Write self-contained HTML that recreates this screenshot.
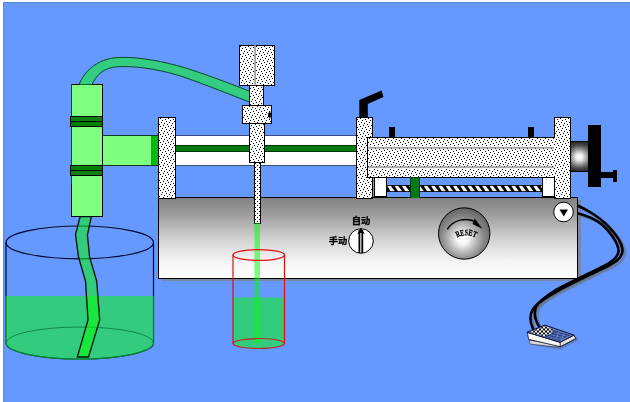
<!DOCTYPE html>
<html><head><meta charset="utf-8">
<style>
html,body{margin:0;padding:0;background:#fff;}
body{width:630px;height:402px;overflow:hidden;}
svg{display:block;will-change:transform;}
text{font-family:"Liberation Sans","Noto Sans CJK SC",sans-serif;}
</style></head><body>
<svg width="630" height="402" viewBox="0 0 630 402">
<defs>
<pattern id="dots" width="8" height="8" patternUnits="userSpaceOnUse" shape-rendering="crispEdges">
<rect width="8" height="8" fill="#fff"/>
<rect x="2" y="0" width="1" height="1" fill="#000"/>
<rect x="6" y="1" width="1" height="1" fill="#000"/>
<rect x="1" y="2" width="1" height="1" fill="#000"/>
<rect x="4" y="3" width="1" height="1" fill="#000"/>
<rect x="7" y="4" width="1" height="1" fill="#000"/>
<rect x="3" y="5" width="1" height="1" fill="#000"/>
<rect x="0" y="6" width="1" height="1" fill="#000"/>
<rect x="5" y="7" width="1" height="1" fill="#000"/>
</pattern>
<pattern id="stripes" width="6.4" height="6" patternUnits="userSpaceOnUse" x="386.8" y="186">
<rect width="6.4" height="6" fill="#fff"/>
<polygon points="0,0 3.2,0 6.4,6 3.2,6" fill="#000"/>
<polygon points="-3.2,0 -6.4,0 0,6 3.2,6" fill="#000"/>
<polygon points="6.4,0 9.6,6 6.4,6" fill="#000"/>
</pattern>
<linearGradient id="bodyg" x1="0" y1="0" x2="0" y2="1">
<stop offset="0" stop-color="#828282"/>
<stop offset="0.2" stop-color="#9c9c9c"/>
<stop offset="0.5" stop-color="#d0d0d0"/>
<stop offset="0.78" stop-color="#f3f3f3"/>
<stop offset="1" stop-color="#ffffff"/>
</linearGradient>
<radialGradient id="knobg" cx="0.47" cy="0.6" r="0.6">
<stop offset="0" stop-color="#ffffff"/>
<stop offset="0.18" stop-color="#f6f6f6"/>
<stop offset="0.45" stop-color="#b8b8b8"/>
<stop offset="0.7" stop-color="#868686"/>
<stop offset="1" stop-color="#626262"/>
</radialGradient>
<linearGradient id="shaftv" x1="0" y1="0" x2="0" y2="1">
<stop offset="0" stop-color="#2a2a2a"/>
<stop offset="0.12" stop-color="#505050"/>
<stop offset="0.42" stop-color="#f0f0f0"/>
<stop offset="0.52" stop-color="#fff"/>
<stop offset="0.62" stop-color="#f0f0f0"/>
<stop offset="0.9" stop-color="#505050"/>
<stop offset="1" stop-color="#2a2a2a"/>
</linearGradient>
<linearGradient id="shafth" x1="0" y1="0" x2="1" y2="0">
<stop offset="0" stop-color="#222" stop-opacity="0.5"/>
<stop offset="0.3" stop-color="#222" stop-opacity="0.05"/>
<stop offset="0.45" stop-color="#222" stop-opacity="0"/>
<stop offset="0.6" stop-color="#222" stop-opacity="0.05"/>
<stop offset="1" stop-color="#222" stop-opacity="0.55"/>
</linearGradient>
<linearGradient id="grayline" x1="0" y1="0" x2="0" y2="1">
<stop offset="0" stop-color="#fff" stop-opacity="0"/>
<stop offset="0.35" stop-color="#fff" stop-opacity="0.9"/>
<stop offset="0.8" stop-color="#808080" stop-opacity="1"/>
<stop offset="1" stop-color="#707070" stop-opacity="1"/>
</linearGradient>
<linearGradient id="grayline2" x1="0" y1="1" x2="0" y2="0">
<stop offset="0" stop-color="#fff" stop-opacity="0"/>
<stop offset="0.35" stop-color="#fff" stop-opacity="0.9"/>
<stop offset="0.8" stop-color="#808080" stop-opacity="1"/>
<stop offset="1" stop-color="#707070" stop-opacity="1"/>
</linearGradient>
<pattern id="ndots" x="254" y="164" width="8" height="4" patternUnits="userSpaceOnUse" shape-rendering="crispEdges">
<rect width="8" height="4" fill="#fff"/>
<rect x="3" y="1" width="1" height="1" fill="#000"/>
<rect x="1" y="3" width="1" height="1" fill="#000"/>
<rect x="5" y="3" width="1" height="1" fill="#000"/>
</pattern>
<pattern id="checker" width="4" height="4" patternUnits="userSpaceOnUse" patternTransform="translate(529,326.500)">
<rect width="4" height="4" fill="#fff"/>
<rect width="2" height="2" fill="#000"/>
<rect x="2" y="2" width="2" height="2" fill="#000"/>
</pattern>
</defs>

<!-- background -->
<rect x="0" y="0" width="630" height="402" fill="#fff"/>
<rect x="3" y="2" width="627" height="400" fill="#6699ff" shape-rendering="crispEdges"/>
<rect x="3" y="2" width="627" height="1" fill="#5f88dc" shape-rendering="crispEdges"/>
<rect x="3" y="2" width="1" height="400" fill="#5f88dc" shape-rendering="crispEdges"/>

<!-- ============ tank (left) ============ -->
<g id="tank">
<ellipse cx="79.750" cy="242.400" rx="73.750" ry="16.400" fill="none" stroke="#000828" stroke-width="1.200"/>
<path d="M6,242.400 V343 A73.750,16 0 0 0 153.500,343 V242.400" fill="none" stroke="#000828" stroke-width="1.200"/>
<path d="M5.300,296 H154.200 V343 A74.450,16.700 0 0 1 5.300,343 Z" fill="#00ff00" fill-opacity="0.500"/>
<ellipse cx="79.750" cy="343" rx="73.750" ry="16" fill="none" stroke="#0a8040" stroke-width="0.900"/>
</g>

<!-- hose into tank -->
<path id="hose2" d="M80.200,216.500 L75.500,234.500 L78.5,257 L85.5,281 L88,320 L77.3,357 L88.5,357 L99.7,320 L96.7,281 L89.6,257 L87.400,235 L91.400,216.500 Z" fill="#00ff00" fill-opacity="0.5" stroke="#001505" stroke-width="1.350" stroke-linejoin="miter"/>

<!-- ============ top hose arc ============ -->
<path id="hose1" d="M79.200,84.500 C84,71.500 97,58.800 118,57.500 C140,56.500 165,62 184,67.5 C205,74 230,83.500 249.500,91.200 L249.500,102 C230,94.500 208,85.700 184,77.100 C165,71 140,65.500 118,66.700 C103,67.500 96,76 92,84.500 Z" fill="#33cc80" stroke="#064a2a" stroke-width="1"/>

<!-- ============ vertical green cylinder ============ -->
<g shape-rendering="crispEdges">
<rect x="71" y="84" width="32" height="133" fill="#000"/>
<rect x="72" y="85" width="30" height="131" fill="#80ff80"/>
<rect x="71" y="84" width="1" height="100" fill="#064a2a"/>
<rect x="80" y="84" width="12" height="1" fill="#006a22"/>
<!-- horizontal light-green tube -->
<rect x="103" y="135" width="56" height="31" fill="#0a3a2a"/>
<rect x="103" y="136" width="48" height="29" fill="#80ff80"/>
<rect x="151" y="136" width="7" height="29" fill="#00bb11"/>
<!-- bands -->
<rect x="70" y="116" width="33" height="11" fill="#000"/>
<rect x="71" y="117" width="31" height="4" fill="#108010"/>
<rect x="71" y="122" width="31" height="4" fill="#008000"/>
<rect x="70" y="165" width="33" height="11" fill="#000"/>
<rect x="71" y="166" width="31" height="4" fill="#008000"/>
<rect x="71" y="171" width="31" height="4" fill="#108010"/>
</g>

<!-- ============ white tube with green stripe ============ -->
<g shape-rendering="crispEdges">
<rect x="175" y="135" width="183" height="30" fill="#fff"/>
<rect x="175" y="135" width="183" height="1" fill="#3a4a7a"/>
<rect x="175" y="165" width="183" height="1" fill="#3a4a7a"/>
<rect x="175" y="145" width="183" height="7" fill="#003300"/>
<rect x="175" y="146" width="183" height="5" fill="#007a10"/>
</g>

<!-- ============ machine body ============ -->
<g shape-rendering="crispEdges">
<rect x="162" y="200" width="419" height="81" fill="#808080" fill-opacity="0.7"/>
<rect x="158" y="197" width="420" height="82" fill="#000"/>
<rect x="159" y="198" width="418" height="80" fill="url(#bodyg)"/>
</g>

<!-- ============ dotted plates and cylinder ============ -->
<g shape-rendering="crispEdges" stroke="#000" stroke-width="1" fill="url(#dots)">
<rect x="158.500" y="117.500" width="17" height="81"/>
<rect x="356.500" y="117.500" width="16" height="81"/>
<rect x="367.500" y="137.500" width="187" height="40"/>
<rect x="554.500" y="117.500" width="16" height="81"/>
<rect x="553" y="138" width="3" height="39" stroke="none"/>
<!-- nozzle assembly -->
<rect x="239.500" y="45.500" width="35" height="40"/>
<rect x="249.500" y="85.500" width="14" height="20"/>
<rect x="242.500" y="105.500" width="29" height="18"/>
<rect x="249.500" y="123.500" width="15" height="39"/>
<rect x="254.500" y="162.500" width="6" height="60.500" fill="url(#ndots)"/>
</g>
<g shape-rendering="crispEdges">
<rect x="254" y="46" width="2" height="39" fill="#fff"/><rect x="254.200" y="45" width="1.700" height="40.500" fill="#9c9c9c" shape-rendering="auto"/>
<rect x="368" y="145.500" width="186" height="2.900" fill="url(#grayline)" shape-rendering="auto"/>
<rect x="368" y="166.500" width="186" height="2.900" fill="url(#grayline2)" shape-rendering="auto"/>
<path d="M269.800,111.500 v7 M268,113.200 l3.600,3.600 M271.600,113.200 l-3.600,3.600" stroke="#000" stroke-width="1.300" fill="none" shape-rendering="auto"/>
</g>

<!-- handle, pins -->
<polygon points="359.300,117 359.300,100 381.500,90.500 383.500,97 367.800,104 367.800,117" fill="#000"/>
<g shape-rendering="crispEdges" fill="#000">
<rect x="389" y="127" width="6" height="11"/>
<rect x="528" y="127" width="6" height="11"/>
</g>

<!-- rod, blocks -->
<g shape-rendering="crispEdges">
<rect x="386" y="185" width="157" height="7" fill="#000"/>
<clipPath id="rodclip"><rect x="387" y="185.800" width="156" height="5.500"/></clipPath>
<g clip-path="url(#rodclip)" fill="#fff" shape-rendering="auto"><polygon points="387.0,185.5 390.5,185.5 395.0,191.5 390.8,191.5"/><polygon points="394.3,185.5 397.8,185.5 402.3,191.5 398.1,191.5"/><polygon points="401.6,185.5 405.1,185.5 409.6,191.5 405.4,191.5"/><polygon points="408.9,185.5 412.4,185.5 416.9,191.5 412.7,191.5"/><polygon points="416.2,185.5 419.7,185.5 424.2,191.5 420.0,191.5"/><polygon points="423.5,185.5 427.0,185.5 431.5,191.5 427.3,191.5"/><polygon points="430.8,185.5 434.3,185.5 438.8,191.5 434.6,191.5"/><polygon points="438.1,185.5 441.6,185.5 446.1,191.5 441.9,191.5"/><polygon points="445.4,185.5 448.9,185.5 453.4,191.5 449.2,191.5"/><polygon points="452.7,185.5 456.2,185.5 460.7,191.5 456.5,191.5"/><polygon points="460.0,185.5 463.5,185.5 468.0,191.5 463.8,191.5"/><polygon points="467.3,185.5 470.8,185.5 475.3,191.5 471.1,191.5"/><polygon points="474.6,185.5 478.1,185.5 482.6,191.5 478.4,191.5"/><polygon points="481.9,185.5 485.4,185.5 489.9,191.5 485.7,191.5"/><polygon points="489.2,185.5 492.7,185.5 497.2,191.5 493.0,191.5"/><polygon points="496.5,185.5 500.0,185.5 504.5,191.5 500.3,191.5"/><polygon points="503.8,185.5 507.3,185.5 511.8,191.5 507.6,191.5"/><polygon points="511.1,185.5 514.6,185.5 519.1,191.5 514.9,191.5"/><polygon points="518.4,185.5 521.9,185.5 526.4,191.5 522.2,191.5"/><polygon points="525.7,185.5 529.2,185.5 533.7,191.5 529.5,191.5"/><polygon points="533.0,185.5 536.5,185.5 541.0,191.5 536.8,191.5"/><polygon points="540.3,185.5 543.8,185.5 548.3,191.5 544.1,191.5"/></g>
<rect x="374" y="177" width="13" height="20" fill="#000"/>
<rect x="375" y="178" width="11" height="18" fill="#fff"/>
<rect x="542" y="177" width="13" height="20" fill="#000"/>
<rect x="543" y="178" width="11" height="18" fill="#fff"/>
<rect x="410" y="177" width="10" height="21" fill="#00330a"/>
<rect x="411" y="178" width="8" height="20" fill="#007a14"/>
</g>

<!-- shaft and wheel -->
<g shape-rendering="crispEdges">
<rect x="571" y="141" width="18" height="31" fill="#000"/>
<rect x="571" y="142" width="18" height="29" fill="url(#shaftv)"/>
<rect x="571" y="142" width="18" height="29" fill="url(#shafth)"/>
<rect x="588" y="125" width="13" height="62" fill="#000"/>
<rect x="601" y="172" width="12" height="6" fill="#000"/>
<rect x="613" y="170" width="4" height="12" fill="#000"/>
</g>

<!-- stream -->
<rect x="254.400" y="223" width="5.600" height="120.500" fill="#00ff00" fill-opacity="0.5"/>

<!-- cup -->
<g id="cup">
<path d="M233,297.500 H284.500 V343.500 A25.750,5 0 0 1 233,343.500 Z" fill="#00ff00" fill-opacity="0.5"/>
<ellipse cx="258.750" cy="255" rx="25.750" ry="5.400" fill="none" stroke="#e01010" stroke-width="1.200"/>
<ellipse cx="258.750" cy="343.500" rx="25.750" ry="5" fill="none" stroke="#c82020" stroke-width="1.200"/>
<path d="M233,255 V343.500 M284.500,255 V343.500" fill="none" stroke="#e01010" stroke-width="1.200"/>
</g>

<!-- switch -->
<g id="switch">
<circle cx="361" cy="241" r="12.300" fill="#fff" stroke="#000" stroke-width="1"/>
<path d="M359.400,253 V230 M362.300,253 V230" stroke="#000" stroke-width="1.800" fill="none"/>
<polygon points="360.900,227.800 357.200,234.300 359.500,233 362.500,233 364.900,234.300" fill="#000"/>
<text x="351.800" y="223.800" font-size="9.300" font-weight="bold" fill="#000" stroke="#000" stroke-width="0.250">自动</text>
<text x="328.800" y="243.600" font-size="9.300" font-weight="bold" fill="#000" stroke="#000" stroke-width="0.250">手动</text>
</g>

<!-- reset knob -->
<g id="knob">
<circle cx="464.200" cy="233.500" r="25.700" fill="url(#knobg)" stroke="#000" stroke-width="1"/>
<path d="M447.300,229.300 C453,220 466,216.500 477,222.500" fill="none" stroke="#000" stroke-width="1.400"/>
<polygon points="474.700,218.500 482.500,228.800 472.500,224" fill="#000"/>
<path id="rarc" d="M456.500,238 Q466.200,232.300 476.500,238" fill="none"/>
<text font-size="8.500" font-weight="bold" fill="#000" stroke="#000" stroke-width="0.300" style="font-family:'Liberation Serif',serif"><textPath href="#rarc" startOffset="0.500" textLength="19.500" lengthAdjust="spacingAndGlyphs">RESET</textPath></text>
</g>

<!-- indicator circle -->
<circle cx="563.500" cy="212" r="9.800" fill="#fff" stroke="#000" stroke-width="1"/>
<polygon points="559.500,209.500 568,209.500 563.800,216.500" fill="#000"/>

<!-- cables -->
<g fill="none" stroke-linecap="round">
<g stroke="#6a7690" stroke-opacity="0.75" stroke-width="2.600" transform="translate(2.500,2.200)">
<path d="M578.500,206 C588,210 600,218 606,224 C614,232 622,242 622.500,250 C623,258 614,263 606,267 C590,275 570,284 556,292 C545,298 536,304 532.500,310 C529.500,315 530,322 533,329"/>
<path d="M578.500,213.500 C586,215.500 596,219.500 602,224.500 C610,231.500 618,243 618.500,250 C619,257 612,262 604,266 C590,273 570,282.500 555,290.500 C546,296 539,301 536,307 C534,312 535,320 539.500,327.500"/>
</g>
<g stroke="#000" stroke-width="2.600">
<path d="M578.500,206 C588,210 600,218 606,224 C614,232 622,242 622.500,250 C623,258 614,263 606,267 C590,275 570,284 556,292 C545,298 536,304 532.500,310 C529.500,315 530,322 533,329"/>
<path d="M578.500,213.500 C586,215.500 596,219.500 602,224.500 C610,231.500 618,243 618.500,250 C619,257 612,262 604,266 C590,273 570,282.500 555,290.500 C546,296 539,301 536,307 C534,312 535,320 539.500,327.500"/>
</g>
</g>

<!-- pedal -->
<g id="pedal" stroke-linejoin="round">
<polygon points="532,345 561,349.500 578.500,340 577,337 562,345.500" fill="#5a6a90" fill-opacity="0.550"/>
<polygon points="529,340.200 530.100,344 554,346.800 560,346.800 560,345" fill="#dcdcdc" stroke="#222" stroke-width="0.600"/>
<polygon points="527.200,332.300 528.700,339.400 560.300,346.700 575.800,338.600 573.900,335.100 560.100,342.300" fill="#f6f6f6" stroke="#0a0a20" stroke-width="0.800"/>
<polygon points="560.100,342.300 573.900,335.100 575.800,338.600 560.300,346.700" fill="#e0e0e0" stroke="#0a0a20" stroke-width="0.800"/>
<polygon points="527.200,332.300 544.900,325.100 573.900,335.100 560.100,342.300" fill="#6a8ad0" stroke="#0a0a30" stroke-width="1"/>
<polygon points="529.500,332.300 544.900,326 553.400,329.500 551,333.800 544,336.200" fill="url(#checker)"/>
<polygon points="544.500,336.400 551,334 553.800,330 570.500,335.300 559.800,341" fill="#1c2c70" fill-opacity="0.800"/>
<path d="M548,336.500 L563,340 M551,334.800 L566,338.300 M553.500,332.500 L568.500,336.500 M556,338.800 L559,331.800 M561,340 L564,333.400" stroke="#7a9ae0" stroke-width="0.700" fill="none"/>
</g>
</svg>
</body></html>
